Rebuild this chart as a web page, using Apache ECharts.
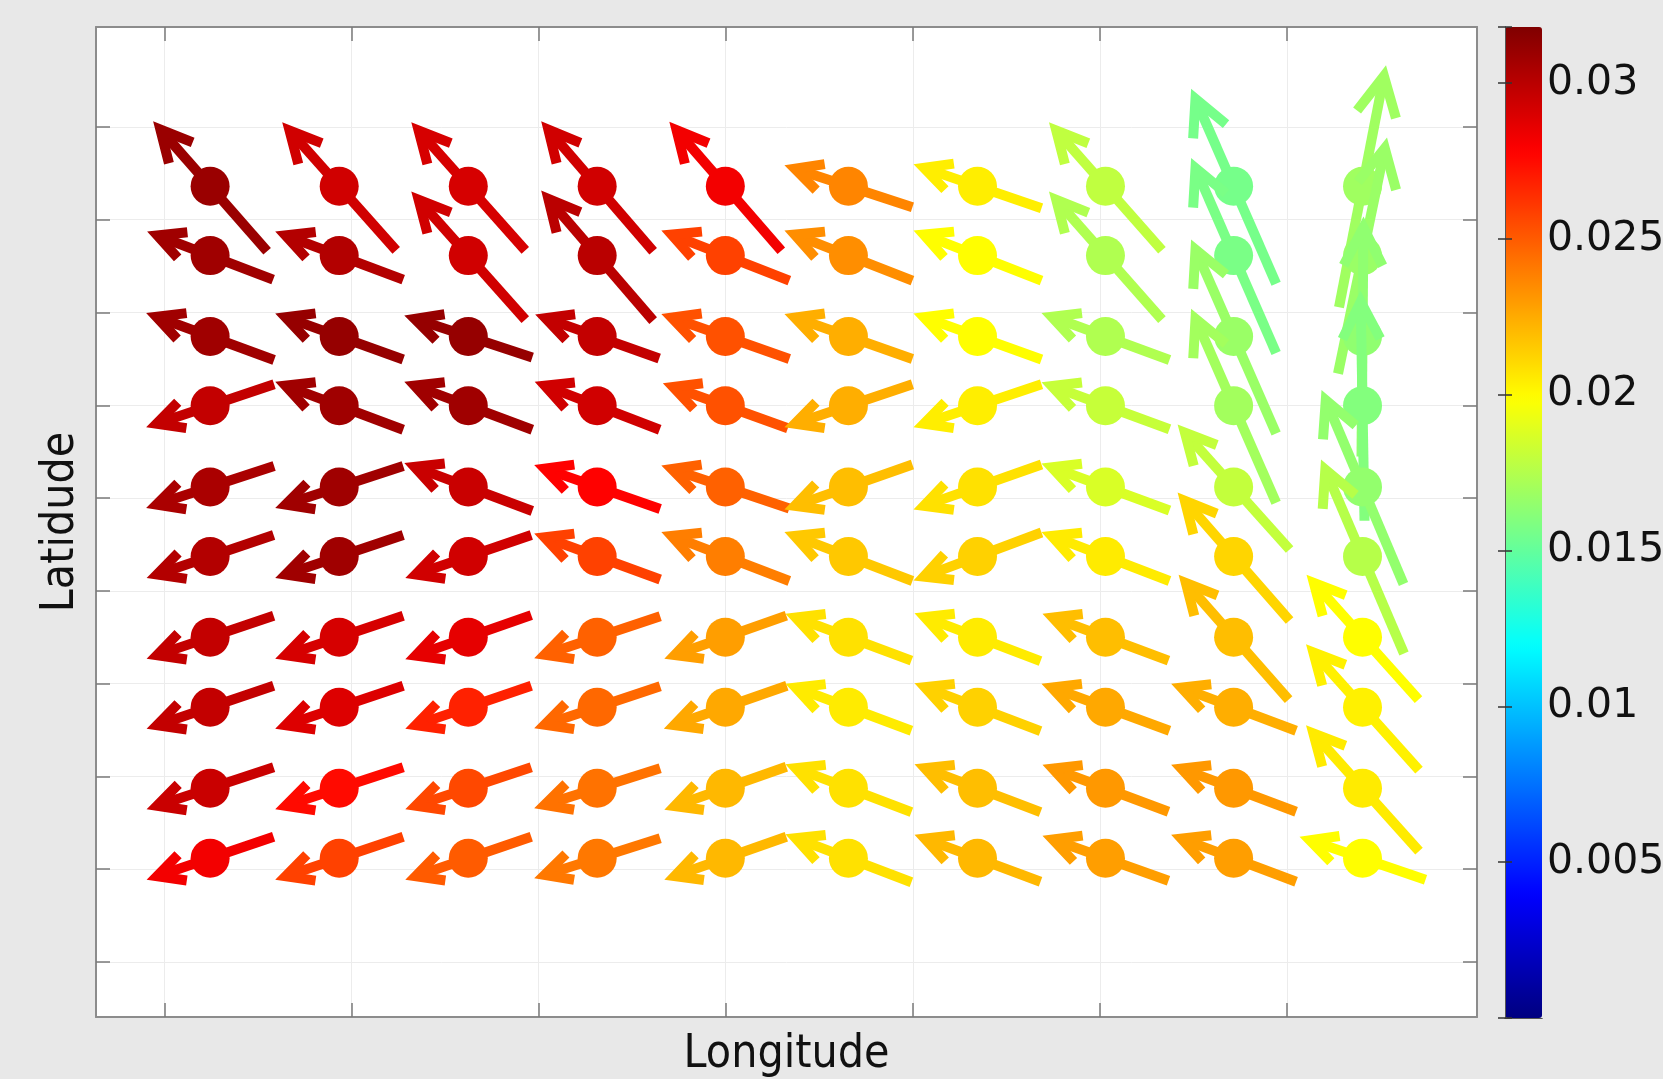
<!DOCTYPE html>
<html><head><meta charset="utf-8">
<script src="https://cdn.jsdelivr.net/npm/echarts@6/dist/echarts.min.js"></script>
<style>html,body{margin:0;padding:0;background:#e8e8e8;}#c{width:1663px;height:1079px;}</style>
</head><body><div id="c"></div>
<script>
// grid point positions (axis units)
const lon = [1.244, 1.934, 2.624, 3.313, 3.998, 4.656, 5.346, 6.030, 6.715, 7.404];
const lat = [9.360, 8.613, 7.742, 6.995, 6.119, 5.370, 4.501, 3.746, 2.873, 2.118];
const xTicks = [1, 2, 3, 4, 5, 6, 7];
const yTicks = [1, 2, 3, 4, 5, 6, 7, 8, 9, 10];
const colorbarTicks = [0.005, 0.01, 0.015, 0.02, 0.025, 0.03];
// east component (rows: north -> south)
const u = [
  [-5.7,-5.7,-5.7,-5.6,-5.6,-6.4,-6.4,-5.65,-4.25, 2.35],
  [-6.3,-6.4,-5.7,-5.6,-6.4,-6.4,-6.4,-5.65,-4.25, 2.45],
  [-6.4,-6.4,-6.4,-6.2,-6.4,-6.4,-6.4,-6.4,-4.25, 0.1],
  [-6.4,-6.4,-6.4,-6.25,-6.25,-6.4,-6.4,-6.4,-4.25,-0.2],
  [-6.4,-6.4,-6.4,-6.3,-6.4,-6.4,-6.4,-6.4,-5.6,-4.1],
  [-6.35,-6.4,-6.3,-6.3,-6.4,-6.4,-6.4,-6.4,-5.6,-4.15],
  [-6.35,-6.4,-6.3,-6.3,-6.1,-6.3,-6.3,-6.3,-5.5,-5.6],
  [-6.35,-6.4,-6.3,-6.3,-6.15,-6.3,-6.3,-6.4,-6.25,-5.65],
  [-6.35,-6.4,-6.3,-6.3,-6.1,-6.3,-6.3,-6.3,-6.25,-5.65],
  [-6.35,-6.4,-6.3,-6.3,-6.1,-6.3,-6.3,-6.3,-6.25,-6.3]
];
// north component
const v = [
  [6.5,6.4,6.4,6.5,6.45,2.1,2.2,6.4,9.75,12.1],
  [2.4,2.4,6.4,6.5,2.5,2.5,2.5,6.4,9.75,11.8],
  [2.35,2.3,2.1,2.2,2.25,2.25,2.3,2.35,9.7,12.0],
  [-2.15,2.4,2.4,2.4,2.25,-2.15,-2.15,2.35,9.7,11.5],
  [-2.1,-2.1,2.4,2.2,2.15,-2.25,-2.25,2.35,6.25,9.7],
  [-2.15,-2.15,-2.15,2.3,2.45,2.45,-2.4,2.45,6.4,9.7],
  [-2.15,-2.15,-2.2,-2.1,-2.15,2.35,2.4,2.35,6.25,6.25],
  [-2.15,-2.15,-2.15,-2.1,-2.15,2.35,2.4,2.35,2.35,6.3],
  [-2.1,-2.1,-2.1,-2.0,-2.15,2.4,2.4,2.35,2.35,6.3],
  [-2.15,-2.15,-2.15,-2.0,-2.15,2.4,2.35,2.25,2.35,2.15]
];
// colour value
const magnitude = [
  [0.0310,0.0293,0.0291,0.0293,0.0282,0.0237,0.0204,0.0179,0.0156,0.0169],
  [0.0308,0.0302,0.0293,0.0300,0.0258,0.0234,0.0199,0.0174,0.0157,0.0167],
  [0.0308,0.0311,0.0311,0.0297,0.0253,0.0224,0.0199,0.0174,0.0167,0.0164],
  [0.0297,0.0308,0.0308,0.0293,0.0253,0.0224,0.0204,0.0181,0.0170,0.0160],
  [0.0305,0.0308,0.0295,0.0278,0.0248,0.0219,0.0208,0.0187,0.0180,0.0165],
  [0.0302,0.0308,0.0293,0.0258,0.0239,0.0216,0.0213,0.0205,0.0212,0.0176],
  [0.0297,0.0291,0.0286,0.0248,0.0229,0.0208,0.0205,0.0219,0.0219,0.0199],
  [0.0297,0.0289,0.0268,0.0246,0.0226,0.0205,0.0213,0.0226,0.0224,0.0203],
  [0.0295,0.0275,0.0256,0.0243,0.0221,0.0208,0.0219,0.0231,0.0231,0.0205],
  [0.0282,0.0258,0.0250,0.0241,0.0221,0.0208,0.0221,0.0229,0.0229,0.0199]
];

const data = [];
for (let r = 0; r < lat.length; r++) {
  for (let c = 0; c < lon.length; c++) {
    data.push([lon[c], lat[r], magnitude[r][c], u[r][c], v[r][c]]);
  }
}
const jet = ['#000080','#0000ff','#0080ff','#00ffff','#80ff80','#ffff00','#ff8000','#ff0000','#800000'];
const SCALE = 10;   // px per vector unit (half arrow)
const LW = 10;

function renderItem(params, api) {
  const p = api.coord([api.value(0), api.value(1)]);
  const hx = api.value(3) * SCALE, hy = -api.value(4) * SCALE;
  const tip = [p[0] + hx, p[1] + hy], tail = [p[0] - hx, p[1] - hy];
  const len = Math.hypot(hx, hy);
  const bx = -hx / len, by = -hy / len;
  const a = 27 * Math.PI / 180, ca = Math.cos(a), sa = Math.sin(a);
  const back = (LW / 2) / sa;             // miter apex overshoot
  const j = [tip[0] + bx * back, tip[1] + by * back];
  const h = 14 + 0.12 * 2 * len;
  const b1 = [j[0] + h * (bx * ca - by * sa), j[1] + h * (bx * sa + by * ca)];
  const b2 = [j[0] + h * (bx * ca + by * sa), j[1] + h * (-bx * sa + by * ca)];
  const color = api.visual('color');
  return {type: 'group', children: [
    {type: 'polyline', shape: {points: [tail, j]}, style: {stroke: color, lineWidth: LW, lineCap: 'butt', fill: null}},
    {type: 'polyline', shape: {points: [b1, j, b2]}, style: {stroke: color, lineWidth: LW, lineCap: 'butt', lineJoin: 'miter', miterLimit: 10, fill: null}},
    {type: 'circle', shape: {cx: p[0], cy: p[1], r: 19.5}, style: {fill: color}}
  ]};
}

const frameLine = {show: true, lineStyle: {color: '#8c8c8c', width: 2}};
const tickIn = (vals) => ({show: true, inside: true, length: 14, customValues: vals, lineStyle: {color: '#7a7a7a', width: 1.5}});
const XMIN = 0.634, XMAX = 8.016, YMIN = 0.407, YMAX = 11.077;
const nameFont = {fontFamily: 'DejaVu Sans Condensed', fontSize: 46, color: '#111'};

const chart = echarts.init(document.getElementById('c'), null, {renderer: 'canvas'});
chart.setOption({
  animation: false,
  backgroundColor: '#e8e8e8',
  textStyle: {fontFamily: 'DejaVu Sans'},
  grid: [
    {left: 96, top: 27, right: 186, bottom: 62, show: true, backgroundColor: '#ffffff', borderWidth: 0,
     containLabel: false, outerBoundsMode: 'none'},
    {left: 1505, top: 27, width: 37, height: 991, show: false, containLabel: false, outerBoundsMode: 'none'}
  ],
  xAxis: [
    {type: 'value', gridIndex: 0, min: XMIN, max: XMAX, position: 'bottom',
     axisLine: frameLine, axisTick: tickIn(xTicks), axisLabel: {show: false},
     splitLine: {show: true, lineStyle: {color: '#ececec', width: 1}},
     name: 'Longitude', nameLocation: 'middle', nameGap: 15, nameTextStyle: nameFont},
    {type: 'value', gridIndex: 0, min: XMIN, max: XMAX, position: 'top',
     axisLine: frameLine, axisTick: tickIn(xTicks), axisLabel: {show: false}, splitLine: {show: false}},
    {type: 'value', gridIndex: 1, min: 0, max: 1, position: 'bottom', z: 10,
     axisLine: {show: true, lineStyle: {color: '#555', width: 1}}, axisTick: {show: false}, axisLabel: {show: false}, splitLine: {show: false}},
    {type: 'value', gridIndex: 1, min: 0, max: 1, position: 'top', z: 10,
     axisLine: {show: true, lineStyle: {color: '#555', width: 1}}, axisTick: {show: false}, axisLabel: {show: false}, splitLine: {show: false}}
  ],
  yAxis: [
    {type: 'value', gridIndex: 0, min: YMIN, max: YMAX, position: 'left',
     axisLine: frameLine, axisTick: tickIn(yTicks), axisLabel: {show: false},
     splitLine: {show: true, lineStyle: {color: '#ececec', width: 1}},
     name: 'Latidude', nameLocation: 'middle', nameGap: 12, nameRotate: 90, nameTextStyle: nameFont},
    {type: 'value', gridIndex: 0, min: YMIN, max: YMAX, position: 'right',
     axisLine: frameLine, axisTick: tickIn(yTicks), axisLabel: {show: false}, splitLine: {show: false}},
    {type: 'value', gridIndex: 1, min: 0, max: 0.0318, interval: 0.005, position: 'right', z: 10,
     axisLine: {show: true, lineStyle: {color: '#555', width: 1}},
     axisTick: {show: true, inside: true, length: 7, lineStyle: {color: '#333', width: 1.5}},
     axisLabel: {show: true, inside: false, margin: 5, fontSize: 41, fontFamily: 'DejaVu Sans', color: '#111',
       formatter: (val) => colorbarTicks.some(t => Math.abs(t - val) < 1e-9) ? String(+val.toFixed(3)) : ''},
     splitLine: {show: false}},
    {type: 'value', gridIndex: 1, min: 0, max: 0.0318, interval: 0.005, position: 'left', z: 10,
     axisLine: {show: true, lineStyle: {color: '#555', width: 1}},
     axisTick: {show: true, inside: true, length: 7, lineStyle: {color: '#333', width: 1.5}},
     axisLabel: {show: false}, splitLine: {show: false}}
  ],
  visualMap: {
    type: 'continuous', min: 0, max: 0.0318, dimension: 2, seriesIndex: 0,
    inRange: {color: jet}, calculable: false, left: 1505, top: 27,
    itemWidth: 37, itemHeight: 991, text: ['', ''], padding: 0, showLabel: false
  },
  series: [{
    type: 'custom', xAxisIndex: 0, yAxisIndex: 0, renderItem: renderItem,
    encode: {x: 0, y: 1}, data: data, clip: false
  }]
});
</script></body></html>
